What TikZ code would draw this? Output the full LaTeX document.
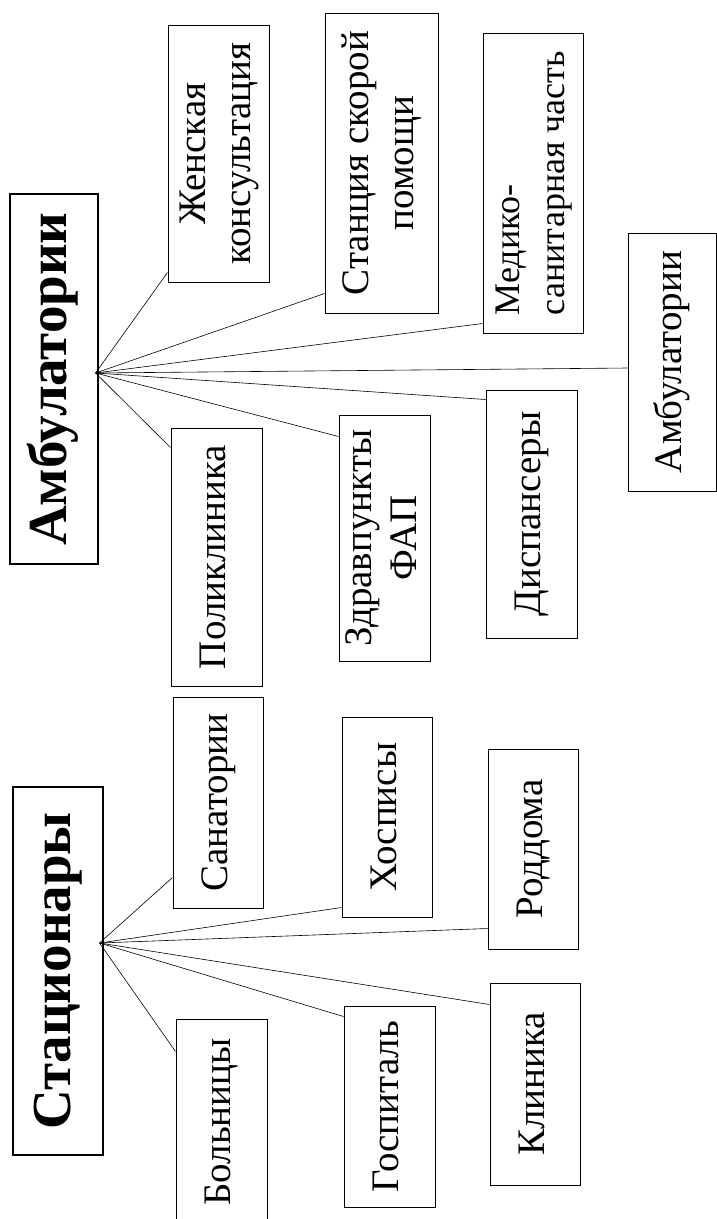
\documentclass[tikz,border=0pt]{standalone}
\usepackage{fontspec}
\setmainfont{Liberation Serif}
\usepackage{graphicx}
\newcommand{\rtxt}[1]{\rotatebox{90}{\begin{tabular}{@{}c@{}}#1\end{tabular}}}
\newcommand{\rtxl}[1]{\rotatebox{90}{\begin{tabular}{@{}l@{}}#1\end{tabular}}}
\begin{document}
\begin{tikzpicture}[x=1pt,y=-1pt,
  box/.style={draw, line width=1pt, inner sep=0pt, font=\fontsize{39}{45}\selectfont},
  smallbox/.style={box, font=\fontsize{36}{45}\selectfont},
  titlebox/.style={draw, line width=1.1pt, inner sep=0pt, font=\fontsize{55}{60}\selectfont\bfseries},
  link/.style={line width=0.6pt}]
\useasboundingbox (0,0) rectangle (717,1219);
\fill[white] (0,0) rectangle (717,1219);

% Ambulatory group
\node[titlebox, minimum width=88pt, minimum height=370pt] (amb) at (54,379) {\rtxt{Амбулатории}};
\node[box, minimum width=101pt, minimum height=257pt] (zhen) at (218.5,153.5) {\rtxt{Женская\\консультация}};
\node[box, minimum width=113pt, minimum height=300pt] (stan) at (381.5,163) {\rtxt{Станция скорой\\помощи}};
\node[smallbox, minimum width=100pt, minimum height=300pt] (med) at (533,183) {\rtxl{Медико-\\санитарная часть}};
\node[box, minimum width=88pt, minimum height=258pt] (ambul) at (672,362) {\rtxt{Амбулатории}};
\node[box, minimum width=91pt, minimum height=258pt] (polik) at (216.5,557) {\rtxt{Поликлиника}};
\node[box, minimum width=91pt, minimum height=246pt] (zdrav) at (384.5,538) {\rtxt{Здравпункты\\ФАП}};
\node[box, minimum width=91pt, minimum height=248pt] (disp) at (531.5,514) {\rtxt{Диспансеры}};

\coordinate (hubA) at ([yshift=6pt,xshift=-3pt]amb.east);
\draw[link] (hubA) -- ([yshift=10pt]zhen.south west);
\draw[link] (hubA) -- ([yshift=20pt]stan.south west);
\draw[link] (hubA) -- ([yshift=10pt]med.south west);
\draw[link] (hubA) -- ([yshift=-6pt]ambul.west);
\draw[link] (hubA) -- ([yshift=-10pt]disp.north west);
\draw[link] (hubA) -- ([yshift=-22pt]zdrav.north west);
\draw[link] (hubA) -- ([yshift=-20pt]polik.north west);

% Stationary group
\node[titlebox, minimum width=90pt, minimum height=368pt] (stat) at (58,971) {\rtxt{Стационары}};
\node[box, minimum width=90pt, minimum height=211pt] (sanat) at (218,802.5) {\rtxt{Санатории}};
\node[box, minimum width=91pt, minimum height=206pt] (bolnic) at (221.5,1122) {\rtxt{Больницы}};
\node[box, minimum width=90pt, minimum height=200pt] (hosp) at (387,817) {\rtxt{Хосписы}};
\node[box, minimum width=91pt, minimum height=201pt] (gospit) at (389.5,1106.5) {\rtxt{Госпиталь}};
\node[box, minimum width=90pt, minimum height=200pt] (roddom) at (533,849) {\rtxt{Роддома}};
\node[box, minimum width=90pt, minimum height=202pt] (klin) at (535,1084) {\rtxt{Клиника}};

\coordinate (hubS) at ([yshift=28pt,xshift=-4pt]stat.east);
\draw[link] (hubS) -- ([yshift=31pt]sanat.south west);
\draw[link] (hubS) -- ([yshift=10pt]hosp.south west);
\draw[link] (hubS) -- ([yshift=21pt]roddom.south west);
\draw[link] (hubS) -- ([yshift=-22pt]klin.north west);
\draw[link] (hubS) -- ([yshift=-11pt]gospit.north west);
\draw[link] (hubS) -- ([yshift=-33pt]bolnic.north west);
\end{tikzpicture}
\end{document}
